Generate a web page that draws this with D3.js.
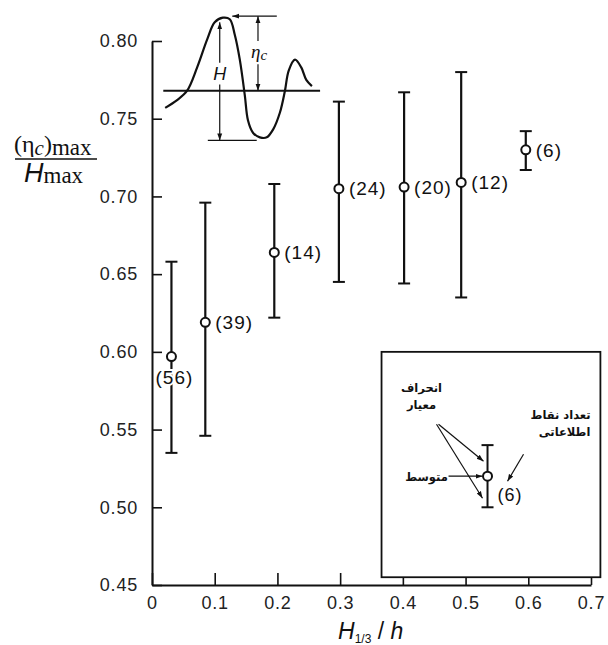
<!DOCTYPE html>
<html>
<head>
<meta charset="utf-8">
<script src="https://cdn.jsdelivr.net/npm/d3@7"></script>
<style>
  body { margin: 0; background: #fff; }
</style>
</head>
<body>
<div id="chart"></div>
<script>
// axis ticks
const xTicks = [0, 0.1, 0.2, 0.3, 0.4, 0.5, 0.6, 0.7];
const yTicks = [0.45, 0.50, 0.55, 0.60, 0.65, 0.70, 0.75, 0.80];

// H1/3/h classes with mean and +/- one standard deviation of (eta_c)max/Hmax
const ratioH   = [0.031, 0.085, 0.195, 0.298, 0.402, 0.493, 0.596];
const meanVal  = [0.597, 0.619, 0.664, 0.705, 0.706, 0.709, 0.730];
const upperVal = [0.658, 0.696, 0.708, 0.761, 0.767, 0.780, 0.742];
const lowerVal = [0.535, 0.546, 0.622, 0.645, 0.644, 0.635, 0.717];
const counts   = [56, 39, 14, 24, 20, 12, 6];

const waveX = [0.021, 0.040, 0.056, 0.072, 0.088, 0.100, 0.113, 0.124, 0.132, 0.140, 0.148, 0.153,
               0.161, 0.172, 0.183, 0.193, 0.204, 0.212, 0.218, 0.228, 0.238, 0.246, 0.255];
const waveY = [0.757, 0.762, 0.768, 0.783, 0.801, 0.812, 0.815, 0.814, 0.804, 0.788, 0.765, 0.749,
               0.741, 0.738, 0.738, 0.743, 0.754, 0.768, 0.781, 0.788, 0.783, 0.775, 0.771];
const stillWater = [0.018, 0.268, 0.768];   // x0, x1, level
const crestLine  = [0.128, 0.199, 0.816];
const troughLine = [0.089, 0.167, 0.736];
const hArrow     = [0.108, 0.812, 0.786, 0.772, 0.736];  // x, top, end of top part, start of lower part, bottom
const etaArrow   = [0.169, 0.816, 0.800, 0.785, 0.768];

// legend sample
const legendX = 0.535, legendMean = 0.52, legendUpper = 0.54, legendLower = 0.50, legendCount = 6;
const legendBox = [0.366, 0.715, 0.60, 0.455];  // x0, x1, top, bottom

const width = 608, height = 645;
const ink = "#111";
const sans = "'Liberation Sans', Arial, sans-serif";
const serif = "'Liberation Serif', 'Times New Roman', serif";

const x = d3.scaleLinear().domain([0, 0.7]).range([152, 591]);
const y = d3.scaleLinear().domain([0.45, 0.80]).range([585, 41]);

const svg = d3.select("#chart").append("svg")
  .attr("width", width)
  .attr("height", height)
  .attr("font-family", sans);

svg.append("defs").append("marker")
  .attr("id", "arr")
  .attr("viewBox", "0 0 10 10")
  .attr("refX", 10).attr("refY", 5)
  .attr("markerWidth", 7).attr("markerHeight", 7)
  .attr("markerUnits", "userSpaceOnUse")
  .attr("orient", "auto-start-reverse")
  .append("path")
  .attr("d", "M0,1.5L10,5L0,8.5Z")
  .attr("fill", ink);

// axes
const yAxis = svg.append("g")
  .attr("transform", `translate(${x(0)},0)`)
  .call(d3.axisLeft(y).tickValues(yTicks).tickSize(-10).tickSizeOuter(0).tickPadding(14)
    .tickFormat(d3.format(".2f")));

const xAxis = svg.append("g")
  .attr("transform", `translate(0,${y(0.45)})`)
  .call(d3.axisBottom(x).tickValues(xTicks).tickSize(-12).tickSizeOuter(0).tickPadding(11)
    .tickFormat(d => d === 0 ? "0" : d.toFixed(1)));

[xAxis, yAxis].forEach(g => {
  g.attr("font-family", sans).attr("font-size", 18);
  g.select(".domain").attr("stroke", ink).attr("stroke-width", 2);
  g.selectAll(".tick line").attr("stroke", ink).attr("stroke-width", 1.6);
  g.selectAll(".tick text").attr("fill", "#222").attr("letter-spacing", 0.8);
});

// y title as a fraction
const yTitle = svg.append("g").attr("font-family", serif).attr("fill", ink);
const num = yTitle.append("text").attr("x", 14).attr("y", 152).attr("font-size", 24);
num.append("tspan").text("(η");
num.append("tspan").attr("font-style", "italic").attr("font-size", 21).attr("dy", 3).text("c");
num.append("tspan").attr("dy", -3).text(")");
num.append("tspan").attr("font-size", 23).attr("dy", 3).text("max");
yTitle.append("line")
  .attr("x1", 15).attr("x2", 97).attr("y1", 159).attr("y2", 159)
  .attr("stroke", ink).attr("stroke-width", 1.6);
const den = yTitle.append("text").attr("x", 24).attr("y", 182).attr("font-size", 27);
den.append("tspan").attr("font-style", "italic").attr("font-family", sans).text("H");
den.append("tspan").attr("font-size", 23).attr("dy", 1).text("max");

// x title (sits on the bottom edge, subscript partly cut as in the source)
const xTitle = svg.append("text")
  .attr("x", 338).attr("y", 639)
  .attr("font-size", 23).attr("fill", ink);
xTitle.append("tspan").attr("font-style", "italic").text("H");
xTitle.append("tspan").attr("font-size", 12).attr("dy", 4).text("1/3");
xTitle.append("tspan").attr("dy", -4).text(" / ");
xTitle.append("tspan").attr("font-style", "italic").text("h");

// wave sketch
const wave = waveX.map((d, i) => [d, waveY[i]]);
svg.append("path")
  .datum(wave)
  .attr("d", d3.line().x(d => x(d[0])).y(d => y(d[1])).curve(d3.curveCatmullRom))
  .attr("fill", "none").attr("stroke", ink).attr("stroke-width", 2.2);

svg.append("line")
  .attr("x1", x(stillWater[0])).attr("x2", x(stillWater[1]))
  .attr("y1", y(stillWater[2])).attr("y2", y(stillWater[2]))
  .attr("stroke", ink).attr("stroke-width", 1.8);

svg.append("line")
  .attr("x1", x(crestLine[1])).attr("x2", x(crestLine[0]))
  .attr("y1", y(crestLine[2])).attr("y2", y(crestLine[2]))
  .attr("stroke", ink).attr("stroke-width", 1.2)
  .attr("marker-end", "url(#arr)");

svg.append("line")
  .attr("x1", x(troughLine[0])).attr("x2", x(troughLine[1]))
  .attr("y1", y(troughLine[2])).attr("y2", y(troughLine[2]))
  .attr("stroke", ink).attr("stroke-width", 1.2);

function dimArrow(a) {
  svg.append("line")
    .attr("x1", x(a[0])).attr("x2", x(a[0]))
    .attr("y1", y(a[2])).attr("y2", y(a[1]))
    .attr("stroke", ink).attr("stroke-width", 1.2)
    .attr("marker-end", "url(#arr)");
  svg.append("line")
    .attr("x1", x(a[0])).attr("x2", x(a[0]))
    .attr("y1", y(a[3])).attr("y2", y(a[4]))
    .attr("stroke", ink).attr("stroke-width", 1.2)
    .attr("marker-end", "url(#arr)");
}
dimArrow(hArrow);
dimArrow(etaArrow);

svg.append("text")
  .attr("x", x(hArrow[0])).attr("y", y((hArrow[2] + hArrow[3]) / 2))
  .attr("dy", "0.36em").attr("text-anchor", "middle")
  .attr("font-size", 18).attr("font-style", "italic").attr("fill", ink)
  .text("H");

const etaLabel = svg.append("text")
  .attr("x", x(etaArrow[0]) - 7).attr("y", y((etaArrow[2] + etaArrow[3]) / 2))
  .attr("dy", "0.3em")
  .attr("font-family", serif)
  .attr("font-size", 19).attr("font-style", "italic").attr("fill", ink);
etaLabel.append("tspan").text("η");
etaLabel.append("tspan").attr("font-size", 15).attr("dy", 2).text("c");

// error bars
const capW = 6;
const bars = svg.append("g").attr("stroke", ink);
ratioH.forEach((h, i) => {
  const cx = x(h);
  bars.append("line")
    .attr("x1", cx).attr("x2", cx)
    .attr("y1", y(upperVal[i])).attr("y2", y(lowerVal[i]))
    .attr("stroke-width", 2.2);
  [upperVal[i], lowerVal[i]].forEach(v => {
    bars.append("line")
      .attr("x1", cx - capW).attr("x2", cx + capW)
      .attr("y1", y(v)).attr("y2", y(v))
      .attr("stroke-width", 2);
  });
});

const labels = svg.append("g")
  .attr("font-size", 19).attr("fill", ink).attr("letter-spacing", 1);
ratioH.forEach((h, i) => {
  const below = i === 0;
  labels.append("text")
    .attr("x", below ? x(h) + 3 : x(h) + 10)
    .attr("y", below ? y(meanVal[i]) + 21 : y(meanVal[i]))
    .attr("dy", "0.36em")
    .attr("text-anchor", below ? "middle" : "start")
    .attr("stroke", "#fff").attr("stroke-width", 4).attr("paint-order", "stroke")
    .text(`(${counts[i]})`);
});

svg.append("g").selectAll("circle")
  .data(ratioH)
  .join("circle")
  .attr("cx", d => x(d))
  .attr("cy", (d, i) => y(meanVal[i]))
  .attr("r", 4.5)
  .attr("fill", "#fff").attr("stroke", ink).attr("stroke-width", 2);

// legend box
const box = svg.append("g");
box.append("rect")
  .attr("x", x(legendBox[0])).attr("y", y(legendBox[2]))
  .attr("width", x(legendBox[1]) - x(legendBox[0]))
  .attr("height", y(legendBox[3]) - y(legendBox[2]))
  .attr("fill", "#fff").attr("stroke", ink).attr("stroke-width", 1.8);

const lx = x(legendX), ly = y(legendMean);
box.append("line")
  .attr("x1", lx).attr("x2", lx).attr("y1", y(legendUpper)).attr("y2", y(legendLower))
  .attr("stroke", ink).attr("stroke-width", 2);
[legendUpper, legendLower].forEach(v => {
  box.append("line")
    .attr("x1", lx - capW).attr("x2", lx + capW).attr("y1", y(v)).attr("y2", y(v))
    .attr("stroke", ink).attr("stroke-width", 2);
});
box.append("circle")
  .attr("cx", lx).attr("cy", ly).attr("r", 4.5)
  .attr("fill", "#fff").attr("stroke", ink).attr("stroke-width", 2);
box.append("text")
  .attr("x", lx + 10).attr("y", ly + 18).attr("dy", "0.36em")
  .attr("font-size", 18).attr("fill", ink).attr("letter-spacing", 1)
  .text(`(${legendCount})`);

const fa = box.append("g")
  .attr("font-family", "'DejaVu Sans', 'Noto Sans', sans-serif")
  .attr("font-weight", "bold").attr("font-size", 11.5)
  .attr("fill", ink).attr("text-anchor", "middle").attr("direction", "rtl");
fa.append("text").attr("x", lx - 66).attr("y", ly - 88).attr("dy", "0.35em").text("انحراف");
fa.append("text").attr("x", lx - 66).attr("y", ly - 71).attr("dy", "0.35em").text("معیار");
fa.append("text").attr("x", lx + 73).attr("y", ly - 61).attr("dy", "0.35em").text("تعداد نقاط");
fa.append("text").attr("x", lx + 77).attr("y", ly - 44).attr("dy", "0.35em").text("اطلاعاتی");
fa.append("text").attr("x", lx - 61).attr("y", ly + 1).attr("dy", "0.35em").text("متوسط");

const pointers = [
  [lx - 49, ly - 52, lx - 4, ly - 15],
  [lx - 51, ly - 52, lx - 5, ly + 22],
  [lx - 39, ly, lx - 5, ly],
  [lx + 36, ly - 22, lx + 20, ly + 5]
];
pointers.forEach(p => {
  box.append("line")
    .attr("x1", p[0]).attr("y1", p[1]).attr("x2", p[2]).attr("y2", p[3])
    .attr("stroke", ink).attr("stroke-width", 1.2)
    .attr("marker-end", "url(#arr)");
});
</script>
</body>
</html>
